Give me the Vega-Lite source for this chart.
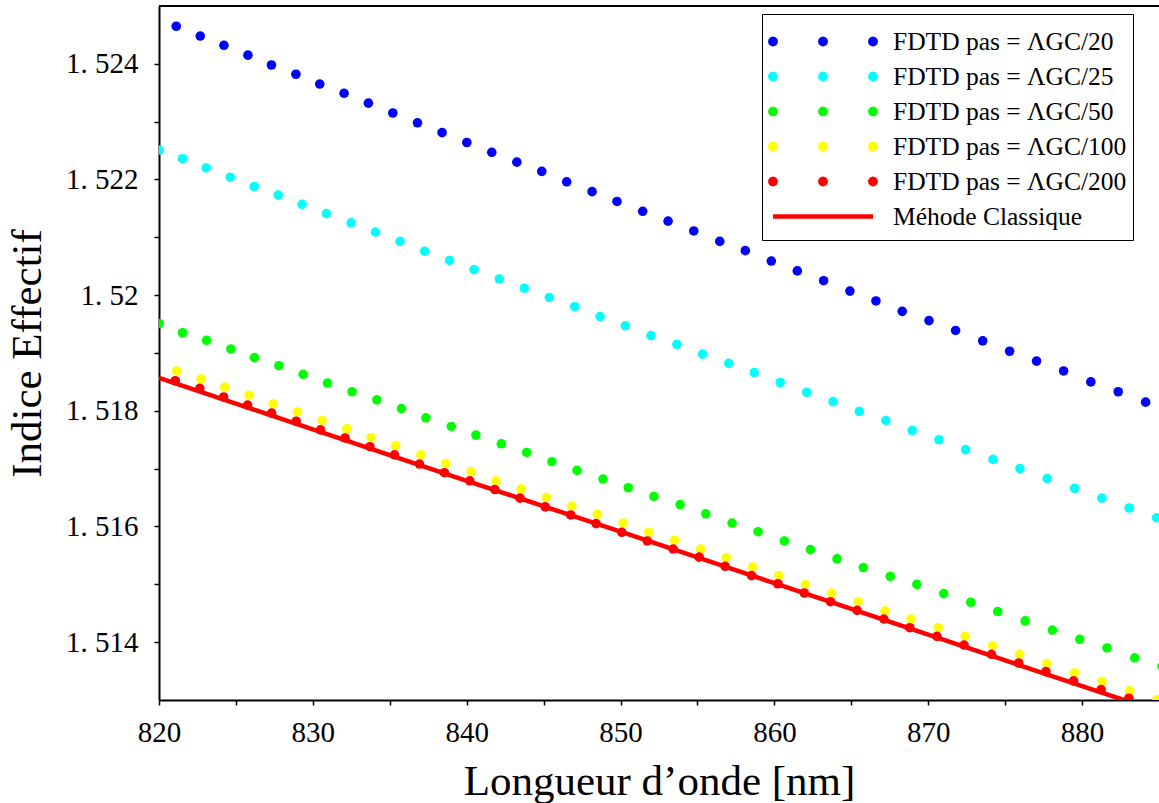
{
  "$schema": "https://vega.github.io/schema/vega-lite/v6.json",
  "width": 1000,
  "height": 694,
  "autosize": {"type": "none"},
  "padding": {"left": 159, "top": 6, "right": 0, "bottom": 103},
  "background": "white",
  "config": {
    "view": {"stroke": null},
    "font": "Liberation Serif",
    "axis": {
      "labelFont": "Liberation Serif",
      "titleFont": "Liberation Serif",
      "labelColor": "black",
      "titleColor": "black",
      "domainColor": "black",
      "tickColor": "black",
      "domainWidth": 2,
      "tickWidth": 1.5,
      "tickSize": 5,
      "grid": false,
      "titleFontWeight": "normal",
      "labelFontSize": 29,
      "titleFontSize": 43
    }
  },
  "datasets": {
    "fdtd": [
      {"serie": "FDTD pas = ΛGC/20", "lambda": 821.12, "neff": 1.52465},
      {"serie": "FDTD pas = ΛGC/20", "lambda": 822.68, "neff": 1.52448},
      {"serie": "FDTD pas = ΛGC/20", "lambda": 824.22, "neff": 1.52432},
      {"serie": "FDTD pas = ΛGC/20", "lambda": 825.78, "neff": 1.52415},
      {"serie": "FDTD pas = ΛGC/20", "lambda": 827.31, "neff": 1.52398},
      {"serie": "FDTD pas = ΛGC/20", "lambda": 828.90, "neff": 1.52382},
      {"serie": "FDTD pas = ΛGC/20", "lambda": 830.45, "neff": 1.52365},
      {"serie": "FDTD pas = ΛGC/20", "lambda": 832.03, "neff": 1.52349},
      {"serie": "FDTD pas = ΛGC/20", "lambda": 833.61, "neff": 1.52332},
      {"serie": "FDTD pas = ΛGC/20", "lambda": 835.20, "neff": 1.52315},
      {"serie": "FDTD pas = ΛGC/20", "lambda": 836.80, "neff": 1.52298},
      {"serie": "FDTD pas = ΛGC/20", "lambda": 838.40, "neff": 1.52281},
      {"serie": "FDTD pas = ΛGC/20", "lambda": 840.01, "neff": 1.52264},
      {"serie": "FDTD pas = ΛGC/20", "lambda": 841.63, "neff": 1.52247},
      {"serie": "FDTD pas = ΛGC/20", "lambda": 843.26, "neff": 1.52230},
      {"serie": "FDTD pas = ΛGC/20", "lambda": 844.88, "neff": 1.52214},
      {"serie": "FDTD pas = ΛGC/20", "lambda": 846.50, "neff": 1.52196},
      {"serie": "FDTD pas = ΛGC/20", "lambda": 848.15, "neff": 1.52179},
      {"serie": "FDTD pas = ΛGC/20", "lambda": 849.77, "neff": 1.52162},
      {"serie": "FDTD pas = ΛGC/20", "lambda": 851.44, "neff": 1.52145},
      {"serie": "FDTD pas = ΛGC/20", "lambda": 853.09, "neff": 1.52128},
      {"serie": "FDTD pas = ΛGC/20", "lambda": 854.76, "neff": 1.52111},
      {"serie": "FDTD pas = ΛGC/20", "lambda": 856.45, "neff": 1.52093},
      {"serie": "FDTD pas = ΛGC/20", "lambda": 858.11, "neff": 1.52077},
      {"serie": "FDTD pas = ΛGC/20", "lambda": 859.80, "neff": 1.52059},
      {"serie": "FDTD pas = ΛGC/20", "lambda": 861.49, "neff": 1.52042},
      {"serie": "FDTD pas = ΛGC/20", "lambda": 863.20, "neff": 1.52025},
      {"serie": "FDTD pas = ΛGC/20", "lambda": 864.91, "neff": 1.52007},
      {"serie": "FDTD pas = ΛGC/20", "lambda": 866.60, "neff": 1.51990},
      {"serie": "FDTD pas = ΛGC/20", "lambda": 868.31, "neff": 1.51972},
      {"serie": "FDTD pas = ΛGC/20", "lambda": 870.05, "neff": 1.51956},
      {"serie": "FDTD pas = ΛGC/20", "lambda": 871.78, "neff": 1.51939},
      {"serie": "FDTD pas = ΛGC/20", "lambda": 873.54, "neff": 1.51921},
      {"serie": "FDTD pas = ΛGC/20", "lambda": 875.29, "neff": 1.51903},
      {"serie": "FDTD pas = ΛGC/20", "lambda": 877.04, "neff": 1.51886},
      {"serie": "FDTD pas = ΛGC/20", "lambda": 878.80, "neff": 1.51869},
      {"serie": "FDTD pas = ΛGC/20", "lambda": 880.57, "neff": 1.51850},
      {"serie": "FDTD pas = ΛGC/20", "lambda": 882.35, "neff": 1.51833},
      {"serie": "FDTD pas = ΛGC/20", "lambda": 884.13, "neff": 1.51815},
      {"serie": "FDTD pas = ΛGC/25", "lambda": 820.01, "neff": 1.52251},
      {"serie": "FDTD pas = ΛGC/25", "lambda": 821.53, "neff": 1.52236},
      {"serie": "FDTD pas = ΛGC/25", "lambda": 823.07, "neff": 1.52220},
      {"serie": "FDTD pas = ΛGC/25", "lambda": 824.63, "neff": 1.52204},
      {"serie": "FDTD pas = ΛGC/25", "lambda": 826.19, "neff": 1.52188},
      {"serie": "FDTD pas = ΛGC/25", "lambda": 827.75, "neff": 1.52173},
      {"serie": "FDTD pas = ΛGC/25", "lambda": 829.30, "neff": 1.52157},
      {"serie": "FDTD pas = ΛGC/25", "lambda": 830.88, "neff": 1.52141},
      {"serie": "FDTD pas = ΛGC/25", "lambda": 832.49, "neff": 1.52125},
      {"serie": "FDTD pas = ΛGC/25", "lambda": 834.07, "neff": 1.52109},
      {"serie": "FDTD pas = ΛGC/25", "lambda": 835.67, "neff": 1.52093},
      {"serie": "FDTD pas = ΛGC/25", "lambda": 837.27, "neff": 1.52076},
      {"serie": "FDTD pas = ΛGC/25", "lambda": 838.88, "neff": 1.52060},
      {"serie": "FDTD pas = ΛGC/25", "lambda": 840.48, "neff": 1.52044},
      {"serie": "FDTD pas = ΛGC/25", "lambda": 842.12, "neff": 1.52028},
      {"serie": "FDTD pas = ΛGC/25", "lambda": 843.75, "neff": 1.52012},
      {"serie": "FDTD pas = ΛGC/25", "lambda": 845.37, "neff": 1.51996},
      {"serie": "FDTD pas = ΛGC/25", "lambda": 847.02, "neff": 1.51980},
      {"serie": "FDTD pas = ΛGC/25", "lambda": 848.67, "neff": 1.51963},
      {"serie": "FDTD pas = ΛGC/25", "lambda": 850.31, "neff": 1.51947},
      {"serie": "FDTD pas = ΛGC/25", "lambda": 851.98, "neff": 1.51930},
      {"serie": "FDTD pas = ΛGC/25", "lambda": 853.66, "neff": 1.51915},
      {"serie": "FDTD pas = ΛGC/25", "lambda": 855.33, "neff": 1.51898},
      {"serie": "FDTD pas = ΛGC/25", "lambda": 857.03, "neff": 1.51882},
      {"serie": "FDTD pas = ΛGC/25", "lambda": 858.69, "neff": 1.51866},
      {"serie": "FDTD pas = ΛGC/25", "lambda": 860.38, "neff": 1.51849},
      {"serie": "FDTD pas = ΛGC/25", "lambda": 862.10, "neff": 1.51832},
      {"serie": "FDTD pas = ΛGC/25", "lambda": 863.81, "neff": 1.51816},
      {"serie": "FDTD pas = ΛGC/25", "lambda": 865.52, "neff": 1.51799},
      {"serie": "FDTD pas = ΛGC/25", "lambda": 867.25, "neff": 1.51783},
      {"serie": "FDTD pas = ΛGC/25", "lambda": 868.96, "neff": 1.51766},
      {"serie": "FDTD pas = ΛGC/25", "lambda": 870.70, "neff": 1.51750},
      {"serie": "FDTD pas = ΛGC/25", "lambda": 872.43, "neff": 1.51733},
      {"serie": "FDTD pas = ΛGC/25", "lambda": 874.21, "neff": 1.51716},
      {"serie": "FDTD pas = ΛGC/25", "lambda": 875.96, "neff": 1.51700},
      {"serie": "FDTD pas = ΛGC/25", "lambda": 877.73, "neff": 1.51683},
      {"serie": "FDTD pas = ΛGC/25", "lambda": 879.51, "neff": 1.51666},
      {"serie": "FDTD pas = ΛGC/25", "lambda": 881.29, "neff": 1.51649},
      {"serie": "FDTD pas = ΛGC/25", "lambda": 883.06, "neff": 1.51632},
      {"serie": "FDTD pas = ΛGC/25", "lambda": 884.84, "neff": 1.51615},
      {"serie": "FDTD pas = ΛGC/50", "lambda": 820.01, "neff": 1.51951},
      {"serie": "FDTD pas = ΛGC/50", "lambda": 821.53, "neff": 1.51935},
      {"serie": "FDTD pas = ΛGC/50", "lambda": 823.09, "neff": 1.51922},
      {"serie": "FDTD pas = ΛGC/50", "lambda": 824.67, "neff": 1.51907},
      {"serie": "FDTD pas = ΛGC/50", "lambda": 826.21, "neff": 1.51892},
      {"serie": "FDTD pas = ΛGC/50", "lambda": 827.79, "neff": 1.51878},
      {"serie": "FDTD pas = ΛGC/50", "lambda": 829.37, "neff": 1.51863},
      {"serie": "FDTD pas = ΛGC/50", "lambda": 830.95, "neff": 1.51848},
      {"serie": "FDTD pas = ΛGC/50", "lambda": 832.55, "neff": 1.51833},
      {"serie": "FDTD pas = ΛGC/50", "lambda": 834.16, "neff": 1.51819},
      {"serie": "FDTD pas = ΛGC/50", "lambda": 835.76, "neff": 1.51804},
      {"serie": "FDTD pas = ΛGC/50", "lambda": 837.35, "neff": 1.51788},
      {"serie": "FDTD pas = ΛGC/50", "lambda": 839.00, "neff": 1.51773},
      {"serie": "FDTD pas = ΛGC/50", "lambda": 840.60, "neff": 1.51758},
      {"serie": "FDTD pas = ΛGC/50", "lambda": 842.25, "neff": 1.51743},
      {"serie": "FDTD pas = ΛGC/50", "lambda": 843.90, "neff": 1.51728},
      {"serie": "FDTD pas = ΛGC/50", "lambda": 845.54, "neff": 1.51712},
      {"serie": "FDTD pas = ΛGC/50", "lambda": 847.17, "neff": 1.51697},
      {"serie": "FDTD pas = ΛGC/50", "lambda": 848.86, "neff": 1.51682},
      {"serie": "FDTD pas = ΛGC/50", "lambda": 850.50, "neff": 1.51667},
      {"serie": "FDTD pas = ΛGC/50", "lambda": 852.17, "neff": 1.51652},
      {"serie": "FDTD pas = ΛGC/50", "lambda": 853.87, "neff": 1.51638},
      {"serie": "FDTD pas = ΛGC/50", "lambda": 855.54, "neff": 1.51622},
      {"serie": "FDTD pas = ΛGC/50", "lambda": 857.25, "neff": 1.51606},
      {"serie": "FDTD pas = ΛGC/50", "lambda": 858.94, "neff": 1.51591},
      {"serie": "FDTD pas = ΛGC/50", "lambda": 860.65, "neff": 1.51575},
      {"serie": "FDTD pas = ΛGC/50", "lambda": 862.34, "neff": 1.51560},
      {"serie": "FDTD pas = ΛGC/50", "lambda": 864.07, "neff": 1.51544},
      {"serie": "FDTD pas = ΛGC/50", "lambda": 865.78, "neff": 1.51529},
      {"serie": "FDTD pas = ΛGC/50", "lambda": 867.53, "neff": 1.51514},
      {"serie": "FDTD pas = ΛGC/50", "lambda": 869.26, "neff": 1.51500},
      {"serie": "FDTD pas = ΛGC/50", "lambda": 871.01, "neff": 1.51484},
      {"serie": "FDTD pas = ΛGC/50", "lambda": 872.77, "neff": 1.51469},
      {"serie": "FDTD pas = ΛGC/50", "lambda": 874.52, "neff": 1.51453},
      {"serie": "FDTD pas = ΛGC/50", "lambda": 876.30, "neff": 1.51437},
      {"serie": "FDTD pas = ΛGC/50", "lambda": 878.07, "neff": 1.51421},
      {"serie": "FDTD pas = ΛGC/50", "lambda": 879.85, "neff": 1.51405},
      {"serie": "FDTD pas = ΛGC/50", "lambda": 881.62, "neff": 1.51390},
      {"serie": "FDTD pas = ΛGC/50", "lambda": 883.42, "neff": 1.51373},
      {"serie": "FDTD pas = ΛGC/50", "lambda": 885.20, "neff": 1.51358},
      {"serie": "FDTD pas = ΛGC/100", "lambda": 821.15, "neff": 1.51869},
      {"serie": "FDTD pas = ΛGC/100", "lambda": 822.73, "neff": 1.51855},
      {"serie": "FDTD pas = ΛGC/100", "lambda": 824.27, "neff": 1.51841},
      {"serie": "FDTD pas = ΛGC/100", "lambda": 825.85, "neff": 1.51827},
      {"serie": "FDTD pas = ΛGC/100", "lambda": 827.41, "neff": 1.51812},
      {"serie": "FDTD pas = ΛGC/100", "lambda": 828.99, "neff": 1.51798},
      {"serie": "FDTD pas = ΛGC/100", "lambda": 830.59, "neff": 1.51783},
      {"serie": "FDTD pas = ΛGC/100", "lambda": 832.20, "neff": 1.51769},
      {"serie": "FDTD pas = ΛGC/100", "lambda": 833.78, "neff": 1.51754},
      {"serie": "FDTD pas = ΛGC/100", "lambda": 835.38, "neff": 1.51740},
      {"serie": "FDTD pas = ΛGC/100", "lambda": 837.02, "neff": 1.51724},
      {"serie": "FDTD pas = ΛGC/100", "lambda": 838.64, "neff": 1.51709},
      {"serie": "FDTD pas = ΛGC/100", "lambda": 840.29, "neff": 1.51695},
      {"serie": "FDTD pas = ΛGC/100", "lambda": 841.91, "neff": 1.51679},
      {"serie": "FDTD pas = ΛGC/100", "lambda": 843.54, "neff": 1.51665},
      {"serie": "FDTD pas = ΛGC/100", "lambda": 845.18, "neff": 1.51650},
      {"serie": "FDTD pas = ΛGC/100", "lambda": 846.83, "neff": 1.51635},
      {"serie": "FDTD pas = ΛGC/100", "lambda": 848.49, "neff": 1.51621},
      {"serie": "FDTD pas = ΛGC/100", "lambda": 850.16, "neff": 1.51606},
      {"serie": "FDTD pas = ΛGC/100", "lambda": 851.83, "neff": 1.51590},
      {"serie": "FDTD pas = ΛGC/100", "lambda": 853.51, "neff": 1.51576},
      {"serie": "FDTD pas = ΛGC/100", "lambda": 855.21, "neff": 1.51561},
      {"serie": "FDTD pas = ΛGC/100", "lambda": 856.87, "neff": 1.51546},
      {"serie": "FDTD pas = ΛGC/100", "lambda": 858.59, "neff": 1.51530},
      {"serie": "FDTD pas = ΛGC/100", "lambda": 860.28, "neff": 1.51515},
      {"serie": "FDTD pas = ΛGC/100", "lambda": 862.01, "neff": 1.51500},
      {"serie": "FDTD pas = ΛGC/100", "lambda": 863.72, "neff": 1.51485},
      {"serie": "FDTD pas = ΛGC/100", "lambda": 865.45, "neff": 1.51470},
      {"serie": "FDTD pas = ΛGC/100", "lambda": 867.19, "neff": 1.51454},
      {"serie": "FDTD pas = ΛGC/100", "lambda": 868.87, "neff": 1.51440},
      {"serie": "FDTD pas = ΛGC/100", "lambda": 870.65, "neff": 1.51425},
      {"serie": "FDTD pas = ΛGC/100", "lambda": 872.40, "neff": 1.51410},
      {"serie": "FDTD pas = ΛGC/100", "lambda": 874.18, "neff": 1.51394},
      {"serie": "FDTD pas = ΛGC/100", "lambda": 875.94, "neff": 1.51379},
      {"serie": "FDTD pas = ΛGC/100", "lambda": 877.71, "neff": 1.51363},
      {"serie": "FDTD pas = ΛGC/100", "lambda": 879.51, "neff": 1.51347},
      {"serie": "FDTD pas = ΛGC/100", "lambda": 881.29, "neff": 1.51332},
      {"serie": "FDTD pas = ΛGC/100", "lambda": 883.10, "neff": 1.51316},
      {"serie": "FDTD pas = ΛGC/100", "lambda": 884.88, "neff": 1.51301},
      {"serie": "FDTD pas = ΛGC/200", "lambda": 821.06, "neff": 1.51852},
      {"serie": "FDTD pas = ΛGC/200", "lambda": 822.65, "neff": 1.51839},
      {"serie": "FDTD pas = ΛGC/200", "lambda": 824.20, "neff": 1.51824},
      {"serie": "FDTD pas = ΛGC/200", "lambda": 825.76, "neff": 1.51810},
      {"serie": "FDTD pas = ΛGC/200", "lambda": 827.32, "neff": 1.51796},
      {"serie": "FDTD pas = ΛGC/200", "lambda": 828.92, "neff": 1.51782},
      {"serie": "FDTD pas = ΛGC/200", "lambda": 830.50, "neff": 1.51767},
      {"serie": "FDTD pas = ΛGC/200", "lambda": 832.10, "neff": 1.51753},
      {"serie": "FDTD pas = ΛGC/200", "lambda": 833.71, "neff": 1.51738},
      {"serie": "FDTD pas = ΛGC/200", "lambda": 835.31, "neff": 1.51724},
      {"serie": "FDTD pas = ΛGC/200", "lambda": 836.93, "neff": 1.51708},
      {"serie": "FDTD pas = ΛGC/200", "lambda": 838.55, "neff": 1.51693},
      {"serie": "FDTD pas = ΛGC/200", "lambda": 840.20, "neff": 1.51679},
      {"serie": "FDTD pas = ΛGC/200", "lambda": 841.83, "neff": 1.51664},
      {"serie": "FDTD pas = ΛGC/200", "lambda": 843.47, "neff": 1.51649},
      {"serie": "FDTD pas = ΛGC/200", "lambda": 845.11, "neff": 1.51634},
      {"serie": "FDTD pas = ΛGC/200", "lambda": 846.76, "neff": 1.51620},
      {"serie": "FDTD pas = ΛGC/200", "lambda": 848.41, "neff": 1.51605},
      {"serie": "FDTD pas = ΛGC/200", "lambda": 850.08, "neff": 1.51590},
      {"serie": "FDTD pas = ΛGC/200", "lambda": 851.74, "neff": 1.51575},
      {"serie": "FDTD pas = ΛGC/200", "lambda": 853.42, "neff": 1.51561},
      {"serie": "FDTD pas = ΛGC/200", "lambda": 855.11, "neff": 1.51547},
      {"serie": "FDTD pas = ΛGC/200", "lambda": 856.80, "neff": 1.51531},
      {"serie": "FDTD pas = ΛGC/200", "lambda": 858.52, "neff": 1.51515},
      {"serie": "FDTD pas = ΛGC/200", "lambda": 860.23, "neff": 1.51501},
      {"serie": "FDTD pas = ΛGC/200", "lambda": 861.94, "neff": 1.51485},
      {"serie": "FDTD pas = ΛGC/200", "lambda": 863.65, "neff": 1.51470},
      {"serie": "FDTD pas = ΛGC/200", "lambda": 865.38, "neff": 1.51455},
      {"serie": "FDTD pas = ΛGC/200", "lambda": 867.12, "neff": 1.51440},
      {"serie": "FDTD pas = ΛGC/200", "lambda": 868.80, "neff": 1.51425},
      {"serie": "FDTD pas = ΛGC/200", "lambda": 870.57, "neff": 1.51410},
      {"serie": "FDTD pas = ΛGC/200", "lambda": 872.33, "neff": 1.51395},
      {"serie": "FDTD pas = ΛGC/200", "lambda": 874.11, "neff": 1.51379},
      {"serie": "FDTD pas = ΛGC/200", "lambda": 875.88, "neff": 1.51364},
      {"serie": "FDTD pas = ΛGC/200", "lambda": 877.65, "neff": 1.51349},
      {"serie": "FDTD pas = ΛGC/200", "lambda": 879.45, "neff": 1.51333},
      {"serie": "FDTD pas = ΛGC/200", "lambda": 881.24, "neff": 1.51318},
      {"serie": "FDTD pas = ΛGC/200", "lambda": 883.04, "neff": 1.51303}
    ],
    "classique": [
      {"serie": "Méhode Classique", "lambda": 820, "neff": 1.51857},
      {"serie": "Méhode Classique", "lambda": 830, "neff": 1.51768},
      {"serie": "Méhode Classique", "lambda": 840, "neff": 1.51679},
      {"serie": "Méhode Classique", "lambda": 850, "neff": 1.51591},
      {"serie": "Méhode Classique", "lambda": 860, "neff": 1.51502},
      {"serie": "Méhode Classique", "lambda": 870, "neff": 1.51413},
      {"serie": "Méhode Classique", "lambda": 880, "neff": 1.51324},
      {"serie": "Méhode Classique", "lambda": 885, "neff": 1.51280}
    ]
  },
  "layer": [
    {
      "data": {"name": "fdtd"},
      "mark": {"type": "point", "filled": true, "size": 92, "opacity": 1, "clip": true},
      "encoding": {
        "x": {
          "field": "lambda",
          "type": "quantitative",
          "scale": {"domain": [820, 885], "nice": false, "zero": false},
          "axis": {
            "title": "Longueur d’onde [nm]",
            "values": [820, 825, 830, 835, 840, 845, 850, 855, 860, 865, 870, 875, 880],
            "labelExpr": "datum.value % 10 == 0 ? datum.label : ''",
            "labelPadding": 13,
            "titlePadding": 13,
            "labelFlush": false,
            "labelOverlap": false
          }
        },
        "y": {
          "field": "neff",
          "type": "quantitative",
          "scale": {"domain": [1.513, 1.525], "nice": false, "zero": false},
          "axis": {
            "title": "Indice Effectif",
            "values": [1.514, 1.515, 1.516, 1.517, 1.518, 1.519, 1.52, 1.521, 1.522, 1.523, 1.524],
            "labelExpr": "round(datum.value * 1000) % 2 == 0 ? replace(format(datum.value, '.3~f'), '.', '. ') : ''",
            "labelPadding": 16,
            "titlePadding": 16,
            "labelFlush": false,
            "labelOverlap": false
          }
        },
        "color": {
          "field": "serie",
          "type": "nominal",
          "scale": {
            "domain": ["FDTD pas = ΛGC/20", "FDTD pas = ΛGC/25", "FDTD pas = ΛGC/50", "FDTD pas = ΛGC/100", "FDTD pas = ΛGC/200", "Méhode Classique"],
            "range": ["#0000ff", "#00ffff", "#00ff00", "#ffff00", "#ff0000", "#ff0000"]
          },
          "legend": {
            "title": " ",
            "titleFontSize": 1,
            "titlePadding": 3,
            "orient": "none",
            "legendX": 603,
            "legendY": 8,
            "padding": 6,
            "strokeColor": "black",
            "fillColor": "white",
            "symbolSize": 10000,
            "symbolStrokeWidth": 0,
            "symbolOffset": 5,
            "symbolOpacity": 1,
            "labelOffset": 20,
            "labelFont": "Liberation Serif",
            "labelFontSize": 25.5,
            "labelColor": "black",
            "labelLimit": 400,
            "clipHeight": 35,
            "rowPadding": 0
          }
        }
      }
    },
    {
      "data": {"name": "fdtd"},
      "transform": [{"filter": "false"}],
      "mark": {"type": "point", "filled": true, "opacity": 1},
      "encoding": {
        "x": {"field": "lambda", "type": "quantitative"},
        "y": {"field": "neff", "type": "quantitative"},
        "color": {"field": "serie", "type": "nominal"},
        "shape": {
          "field": "serie",
          "type": "nominal",
          "scale": {
            "domain": ["FDTD pas = ΛGC/20", "FDTD pas = ΛGC/25", "FDTD pas = ΛGC/50", "FDTD pas = ΛGC/100", "FDTD pas = ΛGC/200", "Méhode Classique"],
            "range": [
              "M-0.9,0L-0.913,0.05L-0.95,0.087L-1,0.1L-1.05,0.087L-1.087,0.05L-1.1,0L-1.087,-0.05L-1.05,-0.087L-1,-0.1L-0.95,-0.087L-0.913,-0.05ZM0.1,0L0.087,0.05L0.05,0.087L0,0.1L-0.05,0.087L-0.087,0.05L-0.1,0L-0.087,-0.05L-0.05,-0.087L0,-0.1L0.05,-0.087L0.087,-0.05ZM1.1,0L1.087,0.05L1.05,0.087L1,0.1L0.95,0.087L0.913,0.05L0.9,0L0.913,-0.05L0.95,-0.087L1,-0.1L1.05,-0.087L1.087,-0.05Z",
              "M-0.9,0L-0.913,0.05L-0.95,0.087L-1,0.1L-1.05,0.087L-1.087,0.05L-1.1,0L-1.087,-0.05L-1.05,-0.087L-1,-0.1L-0.95,-0.087L-0.913,-0.05ZM0.1,0L0.087,0.05L0.05,0.087L0,0.1L-0.05,0.087L-0.087,0.05L-0.1,0L-0.087,-0.05L-0.05,-0.087L0,-0.1L0.05,-0.087L0.087,-0.05ZM1.1,0L1.087,0.05L1.05,0.087L1,0.1L0.95,0.087L0.913,0.05L0.9,0L0.913,-0.05L0.95,-0.087L1,-0.1L1.05,-0.087L1.087,-0.05Z",
              "M-0.9,0L-0.913,0.05L-0.95,0.087L-1,0.1L-1.05,0.087L-1.087,0.05L-1.1,0L-1.087,-0.05L-1.05,-0.087L-1,-0.1L-0.95,-0.087L-0.913,-0.05ZM0.1,0L0.087,0.05L0.05,0.087L0,0.1L-0.05,0.087L-0.087,0.05L-0.1,0L-0.087,-0.05L-0.05,-0.087L0,-0.1L0.05,-0.087L0.087,-0.05ZM1.1,0L1.087,0.05L1.05,0.087L1,0.1L0.95,0.087L0.913,0.05L0.9,0L0.913,-0.05L0.95,-0.087L1,-0.1L1.05,-0.087L1.087,-0.05Z",
              "M-0.9,0L-0.913,0.05L-0.95,0.087L-1,0.1L-1.05,0.087L-1.087,0.05L-1.1,0L-1.087,-0.05L-1.05,-0.087L-1,-0.1L-0.95,-0.087L-0.913,-0.05ZM0.1,0L0.087,0.05L0.05,0.087L0,0.1L-0.05,0.087L-0.087,0.05L-0.1,0L-0.087,-0.05L-0.05,-0.087L0,-0.1L0.05,-0.087L0.087,-0.05ZM1.1,0L1.087,0.05L1.05,0.087L1,0.1L0.95,0.087L0.913,0.05L0.9,0L0.913,-0.05L0.95,-0.087L1,-0.1L1.05,-0.087L1.087,-0.05Z",
              "M-0.9,0L-0.913,0.05L-0.95,0.087L-1,0.1L-1.05,0.087L-1.087,0.05L-1.1,0L-1.087,-0.05L-1.05,-0.087L-1,-0.1L-0.95,-0.087L-0.913,-0.05ZM0.1,0L0.087,0.05L0.05,0.087L0,0.1L-0.05,0.087L-0.087,0.05L-0.1,0L-0.087,-0.05L-0.05,-0.087L0,-0.1L0.05,-0.087L0.087,-0.05ZM1.1,0L1.087,0.05L1.05,0.087L1,0.1L0.95,0.087L0.913,0.05L0.9,0L0.913,-0.05L0.95,-0.087L1,-0.1L1.05,-0.087L1.087,-0.05Z",
              "M-1,-0.045L1,-0.045L1,0.045L-1,0.045Z"
            ]
          }
        }
      }
    },
    {
      "data": {"name": "classique"},
      "mark": {"type": "line", "color": "#ff0000", "strokeWidth": 4.5, "clip": true},
      "encoding": {
        "x": {"field": "lambda", "type": "quantitative"},
        "y": {"field": "neff", "type": "quantitative"}
      }
    },
    {
      "data": {"values": [{"bord": "haut", "neff": 1.525}]},
      "mark": {"type": "rule", "color": "black", "strokeWidth": 2},
      "encoding": {
        "y": {"field": "neff", "type": "quantitative"}
      }
    }
  ]
}
